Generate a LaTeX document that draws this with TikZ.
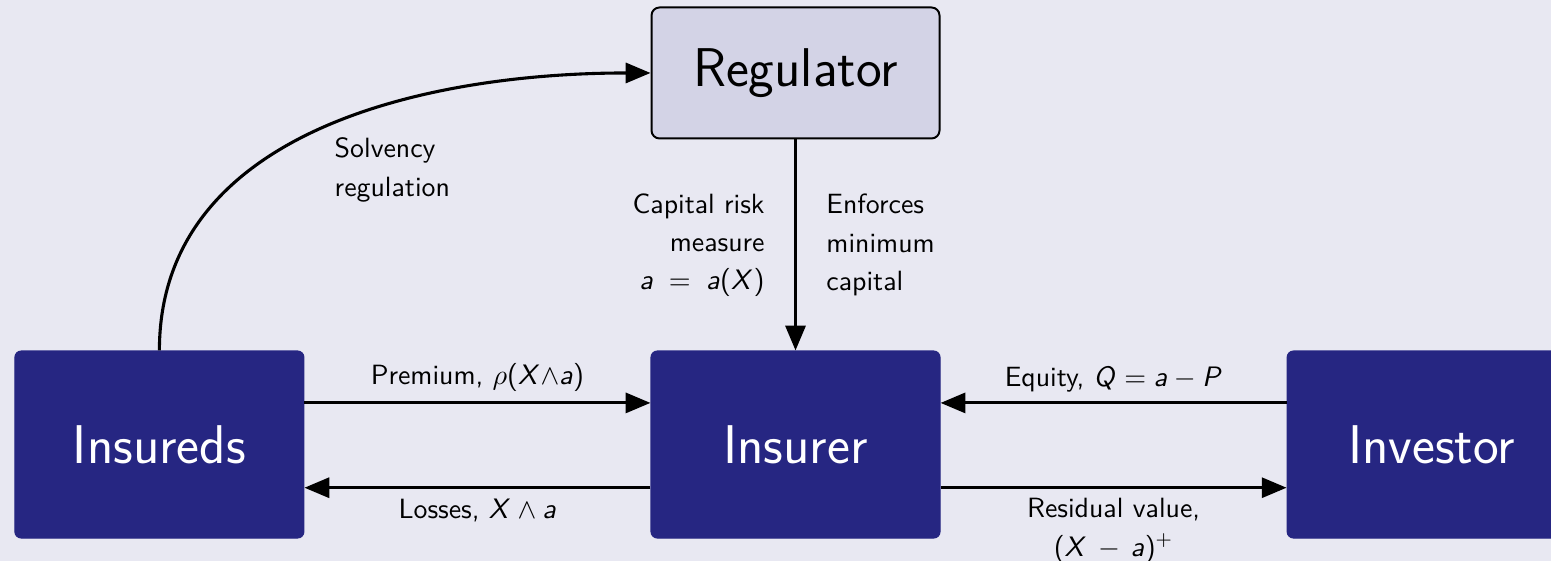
\documentclass[tikz,border=0pt]{standalone}
\usepackage{amsmath}
\usepackage{amssymb}
\usepackage{tikz}
\usetikzlibrary{arrows.meta,shapes,positioning}
\usepackage{xcolor}
\renewcommand{\familydefault}{\sfdefault}
% sans serif math letters
\DeclareSymbolFont{sfletters}{OT1}{cmss}{m}{sl}
\SetSymbolFont{operators}{normal}{OT1}{cmss}{m}{n}
\DeclareMathSymbol{a}{\mathalpha}{sfletters}{`a}
\DeclareMathSymbol{P}{\mathalpha}{sfletters}{`P}
\DeclareMathSymbol{Q}{\mathalpha}{sfletters}{`Q}
\DeclareMathSymbol{X}{\mathalpha}{sfletters}{`X}
\definecolor{rgbg}{RGB}{232,232,242}
\definecolor{rglight}{RGB}{211,211,230}
\definecolor{rgdark}{RGB}{38,38,130}
\tikzstyle{agent} = [rectangle, rounded corners=0.8mm, minimum width=3.6125cm, minimum height=2.3375cm, text centered, draw=rgdark, fill=rgdark, text=white, font=\fontsize{19.4}{23}\selectfont]
\tikzstyle{authority} = [rectangle, rounded corners=1mm, minimum width=3.6cm, minimum height=1.6375cm, text centered, draw=black, line width=0.7pt, fill=rglight, font=\fontsize{19.4}{23}\selectfont]
\tikzstyle{arrow} = [line width=1.1pt, -{Triangle[length=3.1mm,width=2.5mm]}, color=black]
\tikzstyle{flowlabel} = [font=\fontsize{9.9}{13.6}\selectfont, text=black]

\begin{document}
\begin{tikzpicture}[node distance=2.6375cm and 4.325cm]
\useasboundingbox[fill=rgbg] (0,0) rectangle (19.3875,7.0125);

% Central node
\node (insurer) [agent] at (9.944,1.456) {Insurer};

% Surrounding parties
\node (regulator) [authority, above=of insurer] {Regulator};
\node (insureds) [agent, left=of insurer] {Insureds};
\node (investor) [agent, right=of insurer] {Investor};

% Arrows
\draw[arrow] ([yshift=5.2mm]insureds.east) -- node[flowlabel, above] {Premium, $\rho(X{\wedge}a)$} ([yshift=5.2mm]insurer.west);
\draw[arrow] ([yshift=-5.4mm]insurer.west) -- node[flowlabel, below] {Losses, $X\wedge a$} ([yshift=-5.4mm]insureds.east);
\draw[arrow] ([yshift=5.2mm]investor.west) -- node[flowlabel, above] {Equity, $Q=a-P$} ([yshift=5.2mm]insurer.east);
\draw[arrow] ([yshift=-5.4mm]insurer.east) -- node[flowlabel, below, align=center] {Residual value,\\$(X\,-\,a)^+$} ([yshift=-5.4mm]investor.west);
\draw[arrow] (regulator.south) -- node[flowlabel, left, xshift=-2.5mm, align=right] {Capital risk\\measure\\$a\;=\;a(X)$} node[flowlabel, right, xshift=2.5mm, align=left] {Enforces\\minimum\\capital} (insurer.north);
\draw[arrow] (insureds.north) to[out=90, in=180] (regulator.west);
\node (solvency) [flowlabel, align=left, anchor=west] at (4.06,4.89) {Solvency\\regulation};
\end{tikzpicture}
\end{document}
